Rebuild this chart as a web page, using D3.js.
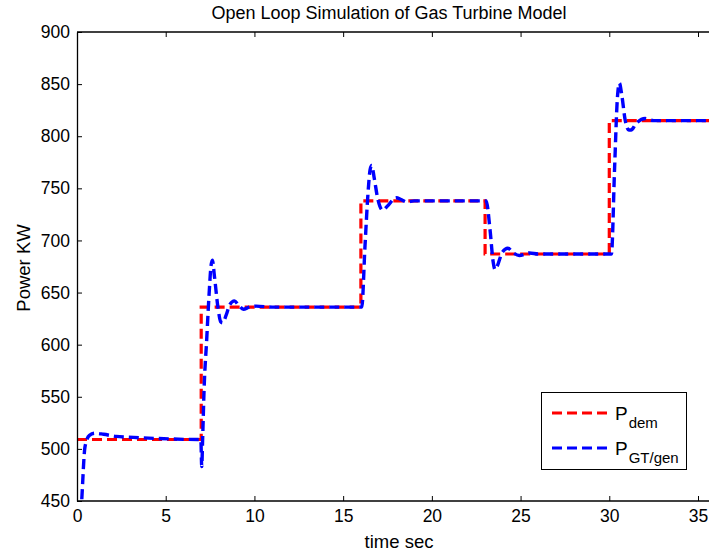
<!DOCTYPE html>
<html>
<head>
<meta charset="utf-8">
<script src="https://cdn.jsdelivr.net/npm/d3@7"></script>
<style>
  html, body { margin: 0; padding: 0; background: #fff; }
  text { font-family: "Liberation Sans", Arial, Helvetica, sans-serif; fill: #000; }
</style>
</head>
<body>
<svg id="chart" width="709" height="554"></svg>
<script>
// ---- data ----
const demTime  = [0, 7, 7, 16, 16, 23, 23, 30, 30, 36];
const demPower = [509, 509, 636, 636, 738, 738, 687, 687, 815, 815];

const genTime  = [0, 0.15, 0.26, 0.45, 0.7, 1.01, 1.5, 2.2, 3.2, 4.5, 6.9, 6.98, 7.03, 7.08, 7.16, 7.31, 7.45, 7.55, 7.63, 7.75, 7.95, 8.1, 8.21, 8.4, 8.6, 8.87, 9.1, 9.38, 9.7, 10.1, 11, 16.0,
                  16.05, 16.23, 16.4, 16.52, 16.61, 16.75, 16.95, 17.23, 17.5, 17.98, 18.3, 18.58, 19, 23.0,
                  23.06, 23.28, 23.45, 23.56, 23.7, 23.95, 24.28, 24.6, 24.93, 25.5, 26, 30.1,
                  30.12, 30.3, 30.45, 30.57, 30.7, 30.9, 31.1, 31.23, 31.5, 32.02, 32.5, 36];
const genPower = [380, 420, 449, 502, 513, 515, 514, 512, 511, 510, 509, 509, 483, 509, 556, 605, 650, 675, 681, 665, 635, 622, 621, 628, 638, 642, 638, 634, 636, 637, 636, 636,
                  636, 694, 745, 768, 772, 760, 740, 729, 733, 741, 739, 737, 738, 738,
                  738, 710, 680, 672, 676, 688, 692.5, 688, 685.5, 688, 687, 687,
                  687, 770, 835, 851, 840, 815, 806, 806, 812, 817, 815, 815];

const xTicks = [0, 5, 10, 15, 20, 25, 30, 35];
const yTicks = [450, 500, 550, 600, 650, 700, 750, 800, 850, 900];

const titleText = "Open Loop Simulation of Gas Turbine Model";
const xLabel = "time sec";
const yLabel = "Power KW";
const seriesNames = [["P", "dem"], ["P", "GT/gen"]];
const seriesColors = ["#ff0000", "#0000ff"];

// ---- layout ----
const svg = d3.select("#chart");
const pLeft = 77, pTop = 32, pBottom = 501;
const pxPerSec = 17.743;
const x = d3.scaleLinear().domain([0, 36]).range([pLeft, pLeft + 36 * pxPerSec]);
const y = d3.scaleLinear().domain([450, 900]).range([pBottom, pTop]);
const pRight = 709 + 2;

svg.append("defs").append("clipPath").attr("id", "plotclip")
  .append("rect").attr("x", pLeft).attr("y", pTop).attr("width", pRight - pLeft).attr("height", pBottom - pTop);

const line = d3.line().x(d => x(d[0])).y(d => y(d[1])).curve(d3.curveMonotoneX);
const stepLine = d3.line().x(d => x(d[0])).y(d => y(d[1]));

const plot = svg.append("g").attr("clip-path", "url(#plotclip)");
plot.append("path")
  .datum(demTime.map((t, i) => [t, demPower[i]]))
  .attr("d", stepLine)
  .attr("fill", "none").attr("stroke", seriesColors[0]).attr("stroke-width", 3.2)
  .attr("stroke-dasharray", "10,5");
plot.append("path")
  .datum(genTime.map((t, i) => [t, genPower[i]]))
  .attr("d", line)
  .attr("fill", "none").attr("stroke", seriesColors[1]).attr("stroke-width", 3.4)
  .attr("stroke-dasharray", "10,5");

// ---- axes ----
const xAxis = d3.axisBottom(x).tickValues(xTicks).tickSizeInner(-5).tickSizeOuter(0).tickPadding(9);
const gx = svg.append("g").attr("transform", `translate(0,${pBottom})`).call(xAxis);
const xAxisTop = d3.axisTop(x).tickValues(xTicks).tickSizeInner(-5).tickSizeOuter(0).tickFormat("");
const gxt = svg.append("g").attr("transform", `translate(0,${pTop})`).call(xAxisTop);
const yAxis = d3.axisLeft(y).tickValues(yTicks).tickSizeInner(-5).tickSizeOuter(0).tickPadding(7);
const gy = svg.append("g").attr("transform", `translate(${pLeft},0)`).call(yAxis);

[gx, gxt, gy].forEach(g => {
  g.select(".domain").attr("stroke", "#000").attr("stroke-width", 1.3);
  g.selectAll(".tick line").attr("stroke", "#000").attr("stroke-width", 1);
  g.selectAll(".tick text").style("font-size", "17.5px").attr("fill", "#000")
    .style("font-family", "'Liberation Sans', Arial, sans-serif");
});
gx.select(".domain").attr("d", `M${pLeft},0H${pRight}`);
gxt.select(".domain").attr("d", `M${pLeft},0H${pRight}`);

// ---- title and labels ----
svg.append("text").attr("x", 389).attr("y", 19).attr("text-anchor", "middle")
  .style("font-size", "18px").text(titleText);
svg.append("text").attr("x", 399).attr("y", 548).attr("text-anchor", "middle")
  .style("font-size", "18.5px").text(xLabel);
svg.append("text").attr("transform", "translate(30,268) rotate(-90)").attr("text-anchor", "middle")
  .style("font-size", "18.5px").text(yLabel);

// ---- legend ----
const lg = svg.append("g");
lg.append("rect").attr("x", 541.5).attr("y", 392.5).attr("width", 145).attr("height", 77)
  .attr("fill", "#fff").attr("stroke", "#000").attr("stroke-width", 1);
const legY = [413, 448];
seriesNames.forEach((nm, i) => {
  lg.append("line").attr("x1", 552).attr("x2", 610).attr("y1", legY[i]).attr("y2", legY[i])
    .attr("stroke", seriesColors[i]).attr("stroke-width", 3.2).attr("stroke-dasharray", "10,5");
  const t = lg.append("text").attr("x", 615).attr("y", legY[i] + 7).style("font-size", "19px");
  t.append("tspan").text(nm[0]);
  t.append("tspan").attr("dy", 8).style("font-size", "15px").attr("dx", 1).text(nm[1]);
});
</script>
</body>
</html>
